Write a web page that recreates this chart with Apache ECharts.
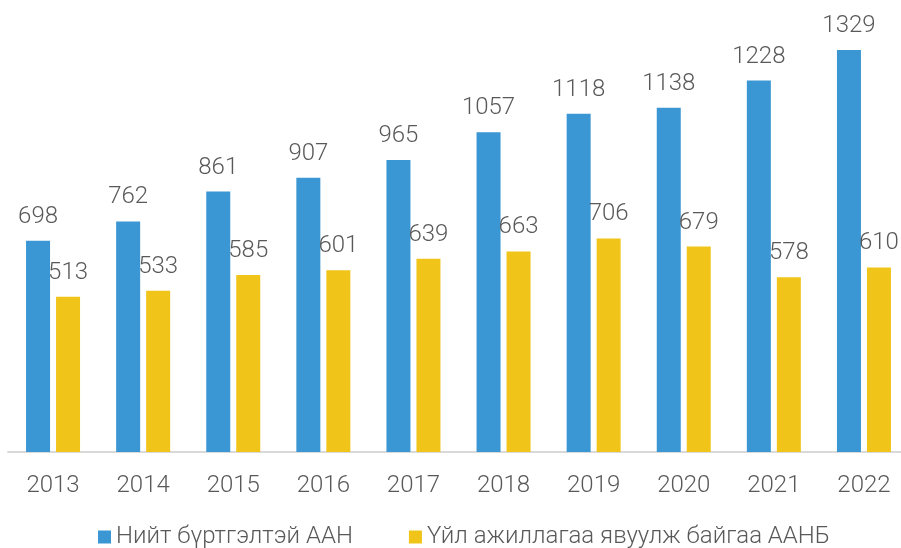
<!DOCTYPE html>
<html>
<head>
<meta charset="utf-8">
<script src="https://cdn.jsdelivr.net/npm/echarts@6/dist/echarts.min.js"></script>
<style>
  html, body { margin: 0; padding: 0; background: #fff; overflow: hidden; }
  #chart { width: 912px; height: 548px; }
</style>
</head>
<body>
<div id="chart"></div>
<script>
// data
const years = ['2013', '2014', '2015', '2016', '2017', '2018', '2019', '2020', '2021', '2022']
const registered = [698, 762, 861, 907, 965, 1057, 1118, 1138, 1228, 1329]
const operating = [513, 533, 585, 601, 639, 663, 706, 679, 578, 610]
const seriesNames = ['Нийт бүртгэлтэй ААН', 'Үйл ажиллагаа явуулж байгаа ААНБ']

const textColor = '#595959'
const font = 'Roboto'

// chart div is a bit wider than the window: the source picture is cropped on the right
const chart = echarts.init(document.getElementById('chart'))

const labelStyle = {
  show: true,
  position: 'top',
  distance: 12,
  color: textColor,
  fontFamily: font,
  fontWeight: 300,
  fontSize: 24
}

chart.setOption({
  animation: false,
  grid: {
    left: 8,
    top: 28.5,
    width: 901,
    height: 423.5
  },
  legend: {
    bottom: -6,
    left: 93,
    itemWidth: 13,
    itemHeight: 13,
    itemGap: 56,
    icon: 'rect',
    textStyle: {
      color: textColor,
      fontFamily: font,
      fontWeight: 300,
      fontSize: 24
    },
    data: seriesNames
  },
  xAxis: {
    type: 'category',
    data: years,
    axisLine: { lineStyle: { color: '#d9d9d9', width: 2 } },
    axisTick: { show: false },
    axisLabel: {
      color: textColor,
      fontFamily: font,
      fontWeight: 300,
      fontSize: 24,
      margin: 22
    }
  },
  yAxis: {
    type: 'value',
    min: 0,
    max: 1400,
    show: false,
    splitLine: { show: false }
  },
  series: [
    {
      name: seriesNames[0],
      type: 'bar',
      data: registered,
      barWidth: 24,
      barGap: '25%',
      itemStyle: { color: '#3b96d4' },
      label: labelStyle
    },
    {
      name: seriesNames[1],
      type: 'bar',
      data: operating,
      barWidth: 24,
      itemStyle: { color: '#f0c419' },
      label: labelStyle
    }
  ]
})
</script>
</body>
</html>
